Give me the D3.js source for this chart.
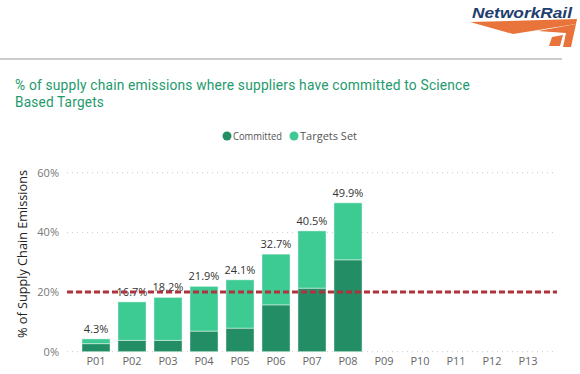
<!DOCTYPE html>
<html>
<head>
<meta charset="utf-8">
<script src="https://cdn.jsdelivr.net/npm/d3@7"></script>
<style>
  body { margin: 0; background: #fff; }
  svg { display: block; font-family: "Open Sans", "Noto Sans", sans-serif; }
</style>
</head>
<body>
<div id="chart"></div>
<script>
// Data
const periods = ['P01', 'P02', 'P03', 'P04', 'P05', 'P06', 'P07', 'P08', 'P09', 'P10', 'P11', 'P12', 'P13']
const committed = [2.7, 3.8, 3.8, 6.9, 7.9, 15.7, 21.3, 30.8]
const totals = [4.3, 16.7, 18.2, 21.9, 24.1, 32.7, 40.5, 49.9]
const yTicks = [0, 20, 40, 60]
const target = 20

const width = 580
const height = 374

const svg = d3.select('#chart')
  .append('svg')
  .attr('width', width)
  .attr('height', height)

// Logo
const logo = svg.append('g')
logo.append('text')
  .text('NetworkRail')
  .attr('x', 472)
  .attr('y', 18)
  .attr('font-family', '"Liberation Sans", Arial, sans-serif')
  .attr('font-weight', 'bold')
  .attr('font-style', 'italic')
  .attr('font-size', 15.5)
  .attr('textLength', 100)
  .attr('lengthAdjust', 'spacingAndGlyphs')
  .attr('fill', '#1f3e6e')
logo.append('polygon')
  .attr('points', '470,22 577,19 576,24 513,34')
  .attr('fill', '#e8743b')
logo.append('polygon')
  .attr('points', '538,31 576,24 571,47 563,47 566,33')
  .attr('fill', '#e8743b')
logo.append('polygon')
  .attr('points', '552,37 563,35 560,46 549,46')
  .attr('fill', '#e8743b')

svg.append('line')
  .attr('x1', 0).attr('x2', 562)
  .attr('y1', 59).attr('y2', 59)
  .attr('stroke', '#cccccc')
  .attr('stroke-width', 2)

// Title
const title = svg.append('text')
  .attr('fill', '#1e9a6c')
  .attr('font-family', 'Roboto, sans-serif')
  .attr('font-size', 15)
  .attr('letter-spacing', 0.2)
title.append('tspan').attr('x', 15).attr('y', 90)
  .attr('textLength', 455).attr('lengthAdjust', 'spacingAndGlyphs')
  .text('% of supply chain emissions where suppliers have committed to Science')
title.append('tspan').attr('x', 15).attr('y', 107)
  .attr('textLength', 89).attr('lengthAdjust', 'spacingAndGlyphs')
  .text('Based Targets')

// Legend
const legendItems = [
  { name: 'Committed', color: '#238d66', x: 227, w: 49 },
  { name: 'Targets Set', color: '#3dca93', x: 294, w: 57 }
]
const legend = svg.append('g')
legend.selectAll('circle')
  .data(legendItems)
  .enter()
  .append('circle')
  .attr('cx', d => d.x)
  .attr('cy', 136)
  .attr('r', 4.5)
  .attr('fill', d => d.color)
legend.selectAll('text')
  .data(legendItems)
  .enter()
  .append('text')
  .attr('x', d => d.x + 6)
  .attr('y', 140)
  .attr('font-size', 11.5)
  .attr('textLength', d => d.w)
  .attr('lengthAdjust', 'spacingAndGlyphs')
  .attr('fill', '#555')
  .text(d => d.name)

// Scales
const xScale = d3.scaleBand()
  .domain(periods)
  .range([78, 546])
  .paddingInner(0.22)
  .paddingOuter(0.11)

const yScale = d3.scaleLinear()
  .domain([0, 60])
  .range([351.7, 172.7])

// Gridlines
svg.append('g')
  .selectAll('line')
  .data(yTicks)
  .enter()
  .append('line')
  .attr('x1', 67).attr('x2', 555)
  .attr('y1', d => yScale(d)).attr('y2', d => yScale(d))
  .attr('stroke', '#c8c8c8')
  .attr('stroke-dasharray', '1,4')

// Y axis
const yAxis = svg.append('g')
  .attr('transform', 'translate(59,0)')
  .call(d3.axisLeft(yScale).tickValues(yTicks).tickFormat(d => d + '%').tickSize(0).tickPadding(0))
yAxis.select('.domain').remove()
yAxis.selectAll('text')
  .attr('font-family', '"Open Sans", sans-serif')
  .attr('font-size', 11)
  .attr('fill', '#777')

svg.append('text')
  .attr('transform', 'rotate(-90)')
  .attr('x', -254)
  .attr('y', 27)
  .attr('text-anchor', 'middle')
  .attr('font-size', 13)
  .attr('textLength', 168)
  .attr('lengthAdjust', 'spacingAndGlyphs')
  .attr('fill', '#222')
  .text('% of Supply Chain Emissions')

// X axis
const xAxis = svg.append('g')
  .attr('transform', 'translate(0,354)')
  .call(d3.axisBottom(xScale).tickSize(0).tickPadding(3))
xAxis.select('.domain').remove()
xAxis.selectAll('text')
  .attr('font-family', '"Open Sans", sans-serif')
  .attr('font-size', 11)
  .attr('fill', '#666')

// Bars
const rows = totals.map((t, i) => ({
  period: periods[i],
  committed: committed[i],
  targets: t - committed[i],
  total: t
}))
const stacked = d3.stack().keys(['committed', 'targets'])(rows)
const colors = { committed: '#238d66', targets: '#3dca93' }

svg.append('g')
  .selectAll('g')
  .data(stacked)
  .enter()
  .append('g')
  .attr('fill', d => colors[d.key])
  .selectAll('rect')
  .data(d => d)
  .enter()
  .append('rect')
  .attr('x', d => xScale(d.data.period))
  .attr('y', d => yScale(d[1]))
  .attr('width', xScale.bandwidth())
  .attr('height', d => yScale(d[0]) - yScale(d[1]))
  .attr('stroke', 'rgba(255,255,255,0.45)')
  .attr('stroke-width', 1)

// Data labels
svg.append('g')
  .selectAll('text')
  .data(rows)
  .enter()
  .append('text')
  .attr('x', d => xScale(d.period) + xScale.bandwidth() / 2)
  .attr('y', d => yScale(d.total) - 6)
  .attr('text-anchor', 'middle')
  .attr('font-size', 11)
  .attr('fill', '#333')
  .text(d => d.total.toFixed(1) + '%')

// Target line
svg.append('line')
  .attr('x1', 67).attr('x2', 557)
  .attr('y1', yScale(target)).attr('y2', yScale(target))
  .attr('stroke', '#b0323c')
  .attr('stroke-width', 3)
  .attr('stroke-dasharray', '6,3')
</script>
</body>
</html>
